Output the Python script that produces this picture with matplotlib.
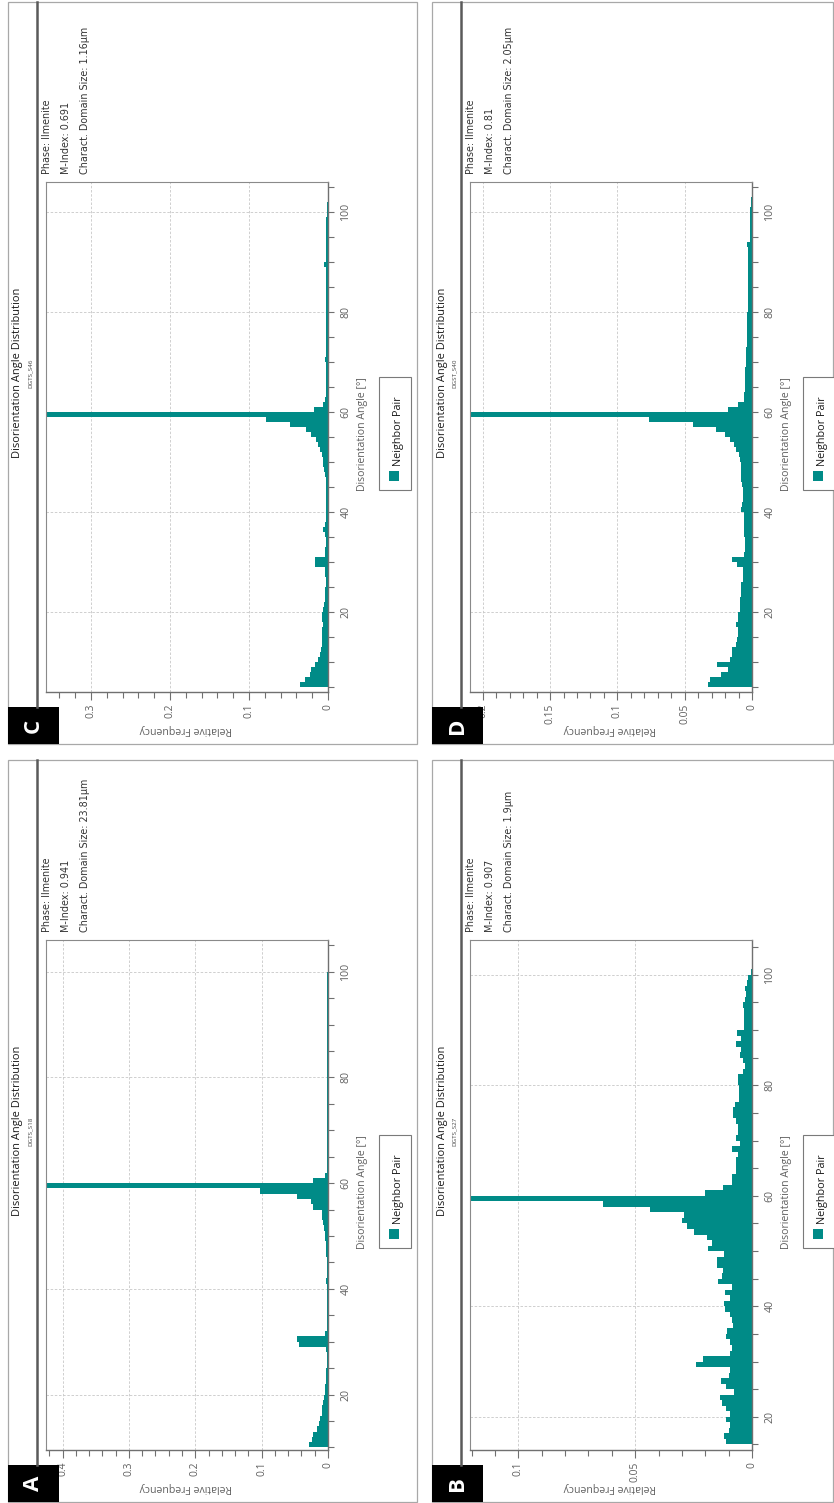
import matplotlib
matplotlib.use("Agg")
import matplotlib.pyplot as plt
from matplotlib.patches import Rectangle
from matplotlib.lines import Line2D
from matplotlib.ticker import MultipleLocator, FixedLocator, FuncFormatter

W, H = 834, 1503
TEAL = "#008B87"

# ---- data: relative frequency per 1-degree disorientation bin ----
a_start = 10
a_freq = [0.028, 0.024, 0.023, 0.017, 0.013, 0.012, 0.009, 0.009, 0.008, 0.006,
          0.005, 0.004, 0.003, 0.003, 0.003, 0.002, 0.002, 0.002, 0.003, 0.044,
          0.047, 0.004, 0.002, 0.002, 0.002, 0.002, 0.002, 0.002, 0.002, 0.002,
          0.002, 0.003, 0.002, 0.002, 0.002, 0.002, 0.003, 0.003, 0.003, 0.004,
          0.005, 0.0055, 0.0075, 0.009, 0.009, 0.022, 0.025, 0.047, 0.1025, 0.423,
          0.022, 0.004, 0.002, 0.002, 0.002, 0.0015, 0.002, 0.0015, 0.002, 0.0015,
          0.0015, 0.002, 0.0015, 0.0015, 0.002, 0.0015, 0.0015, 0.0015, 0.002, 0.0015,
          0.0015, 0.0015, 0.0015, 0.002, 0.0015, 0.0015, 0.0015, 0.0015, 0.0015, 0.0015,
          0.0015, 0.0015, 0.0015, 0.0015, 0.0015, 0.0015, 0.0015, 0.0008, 0.0008, 0.0008]

b_start = 15
b_freq = [0.0112, 0.0118, 0.0098, 0.0093, 0.011, 0.0093, 0.0112, 0.013, 0.0136, 0.0079,
          0.0112, 0.0132, 0.010, 0.0096, 0.024, 0.0208, 0.0093, 0.0086, 0.0096, 0.0112,
          0.0108, 0.0082, 0.0086, 0.0096, 0.0115, 0.0119, 0.0093, 0.0115, 0.0086, 0.0144,
          0.013, 0.0125, 0.0148, 0.0148, 0.0118, 0.019, 0.017, 0.0194, 0.025, 0.028,
          0.030, 0.029, 0.0438, 0.0637, 0.1205, 0.0203, 0.0126, 0.0086, 0.0086, 0.007,
          0.007, 0.007, 0.0062, 0.0086, 0.005, 0.0069, 0.006, 0.006, 0.007, 0.0083,
          0.0083, 0.0073, 0.0055, 0.0055, 0.0055, 0.006, 0.006, 0.004, 0.003, 0.004,
          0.0052, 0.0047, 0.0069, 0.0047, 0.0065, 0.0033, 0.0033, 0.0033, 0.0033, 0.004,
          0.003, 0.0026, 0.003, 0.002, 0.0016, 0.0005]

c_start = 5
c_freq = [0.036, 0.029, 0.023, 0.022, 0.016, 0.013, 0.010, 0.009, 0.008, 0.008,
          0.007, 0.007, 0.006, 0.007, 0.008, 0.006, 0.005, 0.004, 0.004, 0.004,
          0.003, 0.003, 0.004, 0.004, 0.017, 0.016, 0.004, 0.004, 0.003, 0.003,
          0.004, 0.006, 0.004, 0.002, 0.002, 0.002, 0.002, 0.002, 0.002, 0.002,
          0.003, 0.003, 0.004, 0.005, 0.006, 0.0067, 0.0075, 0.010, 0.013, 0.0155,
          0.021, 0.0275, 0.048, 0.078, 0.357, 0.0175, 0.0067, 0.004, 0.003, 0.0025,
          0.0025, 0.003, 0.0025, 0.0025, 0.003, 0.004, 0.003, 0.0025, 0.0025, 0.0025,
          0.003, 0.0025, 0.0025, 0.0025, 0.002, 0.0025, 0.0025, 0.003, 0.0025, 0.0025,
          0.0025, 0.0025, 0.003, 0.0025, 0.0046, 0.003, 0.0025, 0.002, 0.0025, 0.002,
          0.002, 0.0025, 0.002, 0.002, 0.0015, 0.0015, 0.001]

d_start = 5
d_freq = [0.033, 0.031, 0.023, 0.018, 0.026, 0.016, 0.015, 0.015, 0.012, 0.0115,
          0.0105, 0.0105, 0.0116, 0.0104, 0.0104, 0.009, 0.009, 0.009, 0.008, 0.008,
          0.008, 0.0067, 0.0067, 0.0067, 0.0115, 0.0146, 0.006, 0.005, 0.005, 0.005,
          0.006, 0.006, 0.006, 0.006, 0.006, 0.0084, 0.0075, 0.0067, 0.0067, 0.0067,
          0.0074, 0.0079, 0.0079, 0.0084, 0.0084, 0.0092, 0.0099, 0.0116, 0.0134, 0.0166,
          0.0198, 0.027, 0.0438, 0.0765, 0.209, 0.018, 0.0104, 0.006, 0.006, 0.005,
          0.005, 0.005, 0.005, 0.005, 0.0047, 0.0047, 0.0047, 0.0047, 0.004, 0.004,
          0.004, 0.0037, 0.0037, 0.0037, 0.0037, 0.003, 0.003, 0.003, 0.003, 0.003,
          0.003, 0.003, 0.003, 0.003, 0.003, 0.003, 0.003, 0.003, 0.0035, 0.0017,
          0.0017, 0.0017, 0.0017, 0.0017, 0.0017, 0.0012, 0.001, 0.001]

panels = [
    dict(letter="A", off=(8, 760), sample="DGTS_S18", m="0.941", size="23.81µm",
         start=a_start, freq=a_freq, xmax=0.425, major=0.1, minor=0.02,
         ylim=(9.5, 106.0), ymin_tick=10),
    dict(letter="B", off=(432, 760), sample="DGTS_S27", m="0.907", size="1.9µm",
         start=b_start, freq=b_freq, xmax=0.1207, major=0.05, minor=0.01,
         ylim=(14.0, 106.3), ymin_tick=15),
    dict(letter="C", off=(8, 2), sample="DGTS_S46", m="0.691", size="1.16µm",
         start=c_start, freq=c_freq, xmax=0.357, major=0.1, minor=0.02,
         ylim=(4.0, 106.0), ymin_tick=5),
    dict(letter="D", off=(432, 2), sample="DGST_S40", m="0.81", size="2.05µm",
         start=d_start, freq=d_freq, xmax=0.2095, major=0.05, minor=0.01,
         ylim=(4.0, 106.0), ymin_tick=5),
]

fig = plt.figure(figsize=(W / 100, H / 100), dpi=100)
fig.patch.set_facecolor("white")

FONT = ["Open Sans", "DejaVu Sans"]
INFO_FONT = ["DejaVu Sans"]
GREY_TXT = "#606060"


def fxy(x, y):
    return x / W, 1 - y / H


def ftext(x, y, s, **kw):
    fx, fy = fxy(x, y)
    fig.text(fx, fy, s, **kw)


for p in panels:
    x0, y0 = p["off"]
    bw = min(409, W - 1 - x0)

    # panel border
    bx, by = fxy(x0, y0 + 742)
    fig.patches.append(Rectangle((bx, by), bw / W, 742 / H, transform=fig.transFigure,
                                 fill=False, edgecolor="#a8a8a8", lw=0.9))
    # title bar separator
    sx, sy0 = fxy(x0 + 29, y0)
    _, sy1 = fxy(x0 + 29, y0 + 705)
    fig.lines.append(Line2D([sx, sx], [sy0, sy1], transform=fig.transFigure,
                            color="#5a5a5a", lw=1.8))

    # title and sample name
    ftext(x0 + 10, y0 + 371, "Disorientation Angle Distribution", rotation=90,
          ha="center", va="center", fontsize=7.9, color="#1a1a1a", family=FONT)
    ftext(x0 + 22, y0 + 371, p["sample"], rotation=90, ha="center", va="center",
          fontsize=4.5, color="#444444", family=FONT)

    # info block
    for xi, s in zip((39, 58, 77), ("Phase: Ilmenite", "M-Index: " + p["m"],
                                      "Charact. Domain Size: " + p["size"])):
        ftext(x0 + xi, y0 + 172, s, rotation=90, ha="center", va="bottom",
              fontsize=6.9, color="#333333", family=INFO_FONT)

    # plot area
    l, b = fxy(x0 + 38, y0 + 690)
    ax = fig.add_axes([l, b, 282 / W, 510 / H])
    edges = [p["start"] + i for i in range(len(p["freq"]))]
    ax.barh(edges, p["freq"], height=1.0, align="edge", color=TEAL, lw=0, zorder=2)
    ax.set_xlim(p["xmax"], 0)
    ax.set_ylim(*p["ylim"])

    ax.xaxis.set_major_locator(MultipleLocator(p["major"]))
    ax.xaxis.set_minor_locator(MultipleLocator(p["minor"]))
    ax.xaxis.set_major_formatter(FuncFormatter(lambda v, pos: "%g" % round(v, 3)))
    ax.yaxis.tick_right()
    ax.yaxis.set_major_locator(FixedLocator([20, 40, 60, 80, 100]))
    ax.yaxis.set_minor_locator(FixedLocator(list(range(p["ymin_tick"], 106, 5))))
    ax.yaxis.set_major_formatter(FuncFormatter(lambda v, pos: "%d" % v))

    ax.tick_params(axis="x", which="major", direction="out", length=6, width=0.8,
                   color="#707070", labelsize=7.4, labelcolor=GREY_TXT,
                   labelrotation=90, pad=2.5)
    ax.tick_params(axis="x", which="minor", direction="out", length=4, width=0.8,
                   color="#707070")
    ax.tick_params(axis="y", which="major", direction="out", length=4, width=0.8,
                   color="#707070", labelsize=7.6, labelcolor=GREY_TXT,
                   labelrotation=90, pad=5)
    ax.tick_params(axis="y", which="minor", direction="out", length=4, width=0.8,
                   color="#707070")
    for lab in ax.get_yticklabels():
        lab.set_va("center")
        lab.set_family(FONT)
    for lab in ax.get_xticklabels():
        lab.set_family(FONT)

    ax.grid(True, which="major", ls=(0, (3, 2)), color="#c8c8c8", lw=0.6, zorder=0)
    ax.set_axisbelow(True)
    for side in ("top", "left"):
        ax.spines[side].set_color("#8a8a8a")
        ax.spines[side].set_linewidth(0.8)
    for side in ("bottom", "right"):
        ax.spines[side].set_color("#707070")
        ax.spines[side].set_linewidth(1.0)

    # axis titles
    ftext(x0 + 178, y0 + 728, "Relative Frequency", rotation=180, ha="center",
          va="center", fontsize=7.6, color=GREY_TXT, family=FONT)
    ftext(x0 + 354, y0 + 432, "Disorientation Angle [°]", rotation=90, ha="center",
          va="center", fontsize=7.6, color=GREY_TXT, family=FONT)

    # legend
    lx, ly = fxy(x0 + 371, y0 + 488)
    fig.patches.append(Rectangle((lx, ly), 32 / W, 113 / H, transform=fig.transFigure,
                                 facecolor="white", edgecolor="#7a7a7a", lw=0.8))
    qx, qy = fxy(x0 + 381, y0 + 479)
    fig.patches.append(Rectangle((qx, qy), 10 / W, 10 / H, transform=fig.transFigure,
                                 facecolor=TEAL, edgecolor="none"))
    ftext(x0 + 391, y0 + 464, "Neighbor Pair", rotation=90, ha="center", va="bottom",
          fontsize=7.8, color="#1a1a1a", family=FONT)

    # panel letter
    kx, ky = fxy(x0, y0 + 742)
    fig.patches.append(Rectangle((kx, ky), 51 / W, 37 / H, transform=fig.transFigure,
                                 facecolor="black", edgecolor="none"))
    ftext(x0 + 25.5, y0 + 723.5, p["letter"], rotation=90, ha="center", va="center",
          fontsize=16, fontweight="bold", color="white", family=FONT)

fig.savefig("out.png", dpi=100, facecolor="white")
